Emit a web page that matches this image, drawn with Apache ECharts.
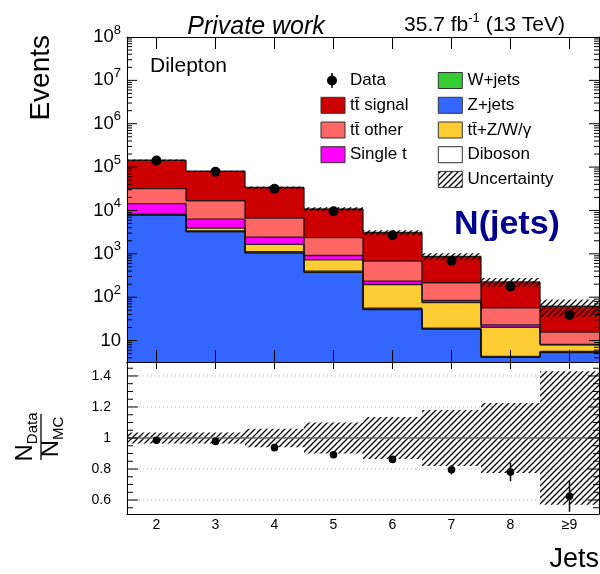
<!DOCTYPE html>
<html>
<head>
<meta charset="utf-8">
<script src="https://cdn.jsdelivr.net/npm/echarts@6/dist/echarts.min.js"></script>
<style>
html,body{margin:0;padding:0;background:#fff;}
#chart{width:600px;height:574px;}
</style>
</head>
<body>
<div id="chart"></div>
<script>
// Jet multiplicity bins
const bins = ['2', '3', '4', '5', '6', '7', '8', '\u22659'];

// Expected events per process (stacked bottom to top)
const zJets    = [7800, 3250, 1050, 375, 52, 18.3, 4.1, 5.3];
const wJets    = [25, 10, 4, 1, 0.3, 0.1, 0.05, 0.07];
const diboson  = [200, 100, 60, 22, 3.4, 0.8, 0.15, 0.2];
const ttV      = [150, 570, 536, 333, 140, 56.3, 16, 2.38];
const singleT  = [6200, 2370, 780, 187, 38, 8.5, 2.7, 0.15];
const ttOther  = [17500, 10500, 4270, 1440, 444, 131, 34, 7.5];
const ttSignal = [112000, 63200, 27000, 8440, 2420, 655, 168, 46.4];

// Observed events and their statistical errors
const dataCounts = [141700, 78240, 31600, 9630, 2670, 692, 175.5, 38.7];
const dataErr    = [376, 280, 178, 98, 52, 26.3, 13.2, 6.2];

// Relative uncertainty of the prediction
const mcRelUnc = [0.035, 0.035, 0.06, 0.10, 0.135, 0.18, 0.225, 0.43];

// Axis ranges and labelled ticks
const Y_MIN = 3.2, Y_MAX = 1e8;
const R_MIN = 0.51, R_MAX = 1.49;
const ratioTicks = [0.6, 0.8, 1, 1.2, 1.4];

const FONT = '"Liberation Sans", Arial, Helvetica, sans-serif';
const TTBAR = 'tt\u0304';

const stackOrder = [
  { name: 'Z+jets',  values: zJets,    color: '#3366ff' },
  { name: 'W+jets',  values: wJets,    color: '#33cc33' },
  { name: 'Diboson', values: diboson,  color: '#ffffff' },
  { name: TTBAR + '+Z/W/\u03b3', values: ttV, color: '#ffcc33' },
  { name: 'Single t', values: singleT, color: '#ff00ff' },
  { name: TTBAR + ' other',  values: ttOther,  color: '#ff6666' },
  { name: TTBAR + ' signal', values: ttSignal, color: '#cc0000' }
];

// cumulative stack levels
const cumulative = [];
let acc = bins.map(() => 0);
stackOrder.forEach(p => {
  acc = acc.map((a, i) => a + p.values[i]);
  cumulative.push(acc.slice());
});
const mcTotal = cumulative[cumulative.length - 1];
const ratio = dataCounts.map((d, i) => d / mcTotal[i]);
const ratioErr = dataErr.map((e, i) => e / mcTotal[i]);

// diagonal hatch used for the uncertainty band
function makeHatch() {
  const c = document.createElement('canvas');
  c.width = 6; c.height = 6;
  const g = c.getContext('2d');
  g.strokeStyle = '#000';
  g.lineWidth = 1.25;
  g.beginPath();
  g.moveTo(0, 6); g.lineTo(6, 0);
  g.moveTo(-1, 1); g.lineTo(1, -1);
  g.moveTo(5, 7); g.lineTo(7, 5);
  g.stroke();
  return c;
}
const hatch = makeHatch();
const hatchFill = { image: hatch, repeat: 'repeat' };

function seg(x1, y1, x2, y2, style) {
  return { type: 'line', shape: { x1, y1, x2, y2 }, style: Object.assign({ stroke: '#000', lineWidth: 1 }, style || {}) };
}

const chart = echarts.init(document.getElementById('chart'), null, { renderer: 'canvas' });

const series = [];

// stacked fills
stackOrder.forEach((p, k) => {
  series.push({
    type: 'custom', name: p.name, xAxisIndex: 0, yAxisIndex: 0, clip: true, z: 2,
    data: bins.map((b, i) => [i, k === 0 ? Y_MIN : cumulative[k - 1][i], cumulative[k][i]]),
    renderItem(params, api) {
      const cs = params.coordSys;
      const w = cs.width / bins.length;
      const lo = api.coord([api.value(0), api.value(1)]);
      const hi = api.coord([api.value(0), api.value(2)]);
      return { type: 'rect', shape: { x: lo[0] - w / 2, y: hi[1], width: w, height: lo[1] - hi[1] }, style: { fill: p.color } };
    }
  });
});

// step outlines of every stack level
const outlineRows = [];
cumulative.forEach(level => {
  level.forEach((v, i) => outlineRows.push([i, v, i > 0 ? level[i - 1] : v]));
});
series.push({
  type: 'custom', xAxisIndex: 0, yAxisIndex: 0, clip: true, z: 3,
  data: outlineRows,
  renderItem(params, api) {
    const cs = params.coordSys;
    const w = cs.width / bins.length;
    const i = api.value(0);
    const top = api.coord([i, api.value(1)]);
    const prev = api.coord([i, api.value(2)]);
    const xl = top[0] - w / 2, xr = top[0] + w / 2;
    const st = { stroke: 'rgba(20,20,20,0.9)', lineWidth: 1.4 };
    return { type: 'group', children: [seg(xl, top[1], xr, top[1], st), seg(xl, prev[1], xl, top[1], st)] };
  }
});

// prediction uncertainty band
series.push({
  type: 'custom', xAxisIndex: 0, yAxisIndex: 0, clip: true, z: 4,
  data: bins.map((b, i) => [i, mcTotal[i] * (1 - mcRelUnc[i]), mcTotal[i] * (1 + mcRelUnc[i])]),
  renderItem(params, api) {
    const cs = params.coordSys;
    const w = cs.width / bins.length;
    const lo = api.coord([api.value(0), api.value(1)]);
    const hi = api.coord([api.value(0), api.value(2)]);
    return { type: 'rect', shape: { x: lo[0] - w / 2, y: hi[1], width: w, height: Math.max(lo[1] - hi[1], 1) }, style: { fill: hatchFill } };
  }
});

// observed data
series.push({
  type: 'custom', xAxisIndex: 0, yAxisIndex: 0, clip: true, z: 6,
  data: bins.map((b, i) => [i, dataCounts[i], dataErr[i]]),
  renderItem(params, api) {
    const i = api.value(0), v = api.value(1), e = api.value(2);
    const c = api.coord([i, v]);
    const lo = api.coord([i, v - e]);
    const hi = api.coord([i, v + e]);
    return { type: 'group', children: [
      seg(c[0], lo[1], c[0], hi[1], { lineWidth: 1.5 }),
      { type: 'circle', shape: { cx: c[0], cy: c[1], r: 5 }, style: { fill: '#000' } }
    ] };
  }
});

// log-axis ticks on both sides of the upper panel
series.push({
  type: 'custom', xAxisIndex: 0, yAxisIndex: 0, clip: false, z: 20, silent: true,
  data: [[0]],
  renderItem(params, api) {
    const cs = params.coordSys;
    const xL = cs.x, xR = cs.x + cs.width;
    const children = [];
    for (let e = 0; e <= 8; e++) {
      for (let m = 1; m <= 9; m++) {
        const v = m * Math.pow(10, e);
        if (v < Y_MIN * 1.001 || v > Y_MAX * 0.999) continue;
        const y = api.coord([0, v])[1];
        const len = m === 1 ? 10 : 5;
        children.push(seg(xL, y, xL + len, y), seg(xR, y, xR - len, y));
      }
    }
    return { type: 'group', children };
  }
});

// ratio panel: dotted reference lines
series.push({
  type: 'custom', xAxisIndex: 2, yAxisIndex: 2, clip: false, z: 1, silent: true,
  data: [[0]],
  renderItem(params, api) {
    const cs = params.coordSys;
    const children = [];
    ratioTicks.forEach(t => {
      if (t === 1) return;
      const y = api.coord([0, t])[1];
      children.push(seg(cs.x, y, cs.x + cs.width, y, { stroke: '#b4b4b4', lineDash: [1, 3] }));
    });
    return { type: 'group', children };
  }
});

// ratio panel: uncertainty band
series.push({
  type: 'custom', xAxisIndex: 2, yAxisIndex: 2, clip: true, z: 3,
  data: bins.map((b, i) => [i, 1 - mcRelUnc[i], 1 + mcRelUnc[i]]),
  renderItem(params, api) {
    const cs = params.coordSys;
    const w = cs.width / bins.length;
    const lo = api.coord([api.value(0), api.value(1)]);
    const hi = api.coord([api.value(0), api.value(2)]);
    return { type: 'rect', shape: { x: lo[0] - w / 2, y: hi[1], width: w, height: lo[1] - hi[1] }, style: { fill: hatchFill } };
  }
});

// ratio panel: unity line
series.push({
  type: 'custom', xAxisIndex: 2, yAxisIndex: 2, clip: false, z: 4, silent: true,
  data: [[0]],
  renderItem(params, api) {
    const cs = params.coordSys;
    const y = api.coord([0, 1])[1];
    return seg(cs.x, y, cs.x + cs.width, y, { stroke: '#666', lineWidth: 1.5 });
  }
});

// ratio panel: data / prediction
series.push({
  type: 'custom', xAxisIndex: 2, yAxisIndex: 2, clip: true, z: 6,
  data: bins.map((b, i) => [i, ratio[i], ratioErr[i]]),
  renderItem(params, api) {
    const i = api.value(0), v = api.value(1), e = api.value(2);
    const c = api.coord([i, v]);
    const lo = api.coord([i, v - e]);
    const hi = api.coord([i, v + e]);
    return { type: 'group', children: [
      seg(c[0], lo[1], c[0], hi[1], { lineWidth: 1.5 }),
      { type: 'circle', shape: { cx: c[0], cy: c[1], r: 3.8 }, style: { fill: '#000' } }
    ] };
  }
});

// ratio panel: y ticks on both sides
series.push({
  type: 'custom', xAxisIndex: 2, yAxisIndex: 2, clip: false, z: 20, silent: true,
  data: [[0]],
  renderItem(params, api) {
    const cs = params.coordSys;
    const xL = cs.x, xR = cs.x + cs.width;
    const children = [];
    for (let k = 11; k <= 29; k++) {
      const v = k * 0.05;
      if (v < R_MIN || v > R_MAX) continue;
      const y = api.coord([0, v])[1];
      const len = k % 4 === 0 ? 11 : 6;
      children.push(seg(xL, y, xL + len, y), seg(xR, y, xR - len, y));
    }
    return { type: 'group', children };
  }
});

function catAxis(grid, pos, tickLen, showLabel) {
  return {
    type: 'category', gridIndex: grid, position: pos, data: bins, z: 10,
    boundaryGap: true,
    axisLine: { show: true, onZero: false, lineStyle: { color: '#000', width: 1 } },
    axisTick: { show: tickLen > 0, inside: true, length: tickLen, alignWithLabel: true, interval: 0, lineStyle: { color: '#000' } },
    axisLabel: { show: showLabel, interval: 0, margin: 4, fontSize: 14, fontFamily: FONT, color: '#000' },
    splitLine: { show: false }
  };
}

const logLabel = v => {
  const e = Math.log10(v);
  const r = Math.round(e);
  if (Math.abs(e - r) > 1e-6) return '';
  return r === 1 ? '{b|10}' : '{b|10}{s|' + r + '}';
};

const option = {
  animation: false,
  backgroundColor: '#fff',
  grid: [
    { left: 127, top: 37, width: 472, height: 325, containLabel: false, outerBoundsMode: 'none' },
    { left: 127, top: 362, width: 472, height: 152, containLabel: false, outerBoundsMode: 'none' }
  ],
  xAxis: [
    catAxis(0, 'bottom', 12, false),
    catAxis(0, 'top', 12, false),
    catAxis(1, 'bottom', 0, true),
    catAxis(1, 'top', 7, false)
  ],
  yAxis: [
    {
      type: 'log', gridIndex: 0, position: 'left', min: Y_MIN, max: Y_MAX, logBase: 10, z: 10,
      axisLine: { show: true, lineStyle: { color: '#000', width: 1 } },
      axisTick: { show: false }, splitLine: { show: false }, minorTick: { show: false },
      axisLabel: {
        margin: 6, formatter: logLabel, color: '#000',
        rich: {
          b: { fontSize: 18.5, fontFamily: FONT, color: '#000', lineHeight: 27 },
          s: { fontSize: 13, fontFamily: FONT, color: '#000', lineHeight: 12, verticalAlign: 'top' }
        }
      }
    },
    {
      type: 'log', gridIndex: 0, position: 'right', min: Y_MIN, max: Y_MAX, logBase: 10, z: 10,
      axisLine: { show: true, lineStyle: { color: '#000', width: 1 } },
      axisTick: { show: false }, splitLine: { show: false }, axisLabel: { show: false }
    },
    {
      type: 'value', gridIndex: 1, position: 'left', min: R_MIN, max: R_MAX, splitNumber: 5, z: 10,
      axisLine: { show: true, lineStyle: { color: '#000', width: 1 } },
      axisTick: { show: false }, splitLine: { show: false },
      axisLabel: {
        margin: 16, fontSize: 14, fontFamily: FONT, color: '#000',
        showMinLabel: true, showMaxLabel: true,
        formatter: v => {
          const t = ratioTicks.find(r => Math.abs(r - v) < 1e-6);
          return t === undefined ? '' : String(t);
        }
      }
    },
    {
      type: 'value', gridIndex: 1, position: 'right', min: R_MIN, max: R_MAX, z: 10,
      axisLine: { show: true, lineStyle: { color: '#000', width: 1 } },
      axisTick: { show: false }, splitLine: { show: false }, axisLabel: { show: false }
    }
  ],
  series: series,
  graphic: []
};

// header, titles and legend
const g = [];
g.push({ type: 'text', x: 256, y: 27, style: { text: 'Private work', font: 'italic 25px ' + FONT, fill: '#000', textAlign: 'center', textVerticalAlign: 'middle' } });
g.push({ type: 'text', x: 565, y: 25, style: {
  text: '{a|35.7 fb}{s|-1}{a| (13 TeV)}', textAlign: 'right', textVerticalAlign: 'middle',
  rich: {
    a: { fontSize: 21, fontFamily: FONT, fill: '#000', lineHeight: 26 },
    s: { fontSize: 13, fontFamily: FONT, fill: '#000', lineHeight: 13, verticalAlign: 'top' }
  }
} });
g.push({ type: 'text', x: 150, y: 66.5, style: { text: 'Dilepton', font: '21px ' + FONT, fill: '#000', textAlign: 'left', textVerticalAlign: 'middle' } });
g.push({ type: 'text', x: 507, y: 225, style: { text: 'N(jets)', font: 'bold 34px ' + FONT, fill: '#00008f', textAlign: 'center', textVerticalAlign: 'middle' } });
g.push({ type: 'text', x: 41, y: 35, rotation: Math.PI / 2, style: { text: 'Events', font: '28px ' + FONT, fill: '#000', textAlign: 'right', textVerticalAlign: 'middle' } });
g.push({ type: 'text', x: 599, y: 559.5, style: { text: 'Jets', font: '27px ' + FONT, fill: '#000', textAlign: 'right', textVerticalAlign: 'middle' } });

// ratio axis title: N_Data over N_MC
g.push({
  type: 'group', x: 41, y: 437, rotation: Math.PI / 2,
  children: [
    { type: 'text', x: 0, y: -16, style: {
      text: '{n|N}{s|Data}', textAlign: 'center', textVerticalAlign: 'middle',
      rich: {
        n: { fontSize: 24, fontFamily: FONT, fill: '#000', lineHeight: 31 },
        s: { fontSize: 15, fontFamily: FONT, fill: '#000', lineHeight: 15, verticalAlign: 'bottom' }
      }
    } },
    { type: 'line', shape: { x1: -23, y1: 0, x2: 23, y2: 0 }, style: { stroke: '#000', lineWidth: 1.3 } },
    { type: 'text', x: 0, y: 10, style: {
      text: '{n|N}{s|MC}', textAlign: 'center', textVerticalAlign: 'middle',
      rich: {
        n: { fontSize: 24, fontFamily: FONT, fill: '#000', lineHeight: 31 },
        s: { fontSize: 15, fontFamily: FONT, fill: '#000', lineHeight: 15, verticalAlign: 'bottom' }
      }
    } }
  ]
});

// legend
const rowY = [80.5, 105.3, 130, 154.7, 179.4];
const colBox = [321, 438.3];
const colText = [350, 467.5];
const legendCols = [
  ['Data', TTBAR + ' signal', TTBAR + ' other', 'Single t'],
  ['W+jets', 'Z+jets', TTBAR + '+Z/W/\u03b3', 'Diboson', 'Uncertainty']
];
legendCols.forEach((col, c) => {
  col.forEach((name, r) => {
    const yc = rowY[r];
    if (name === 'Data') {
      const cx = colBox[c] + 11;
      g.push({ type: 'line', shape: { x1: cx, y1: yc - 7.5, x2: cx, y2: yc + 7.5 }, style: { stroke: '#000', lineWidth: 1.5 } });
      g.push({ type: 'circle', shape: { cx: cx, cy: yc, r: 5 }, style: { fill: '#000' } });
    } else {
      const proc = stackOrder.find(p => p.name === name);
      const fill = proc ? proc.color : hatchFill;
      g.push({ type: 'rect', shape: { x: colBox[c], y: yc - 8, width: 24, height: 16 }, style: { fill: fill, stroke: '#333', lineWidth: 1 } });
    }
    g.push({ type: 'text', x: colText[c], y: yc, style: { text: name, font: '17px ' + FONT, fill: '#000', textAlign: 'left', textVerticalAlign: 'middle' } });
  });
});
option.graphic = g;

chart.setOption(option);
</script>
</body>
</html>
